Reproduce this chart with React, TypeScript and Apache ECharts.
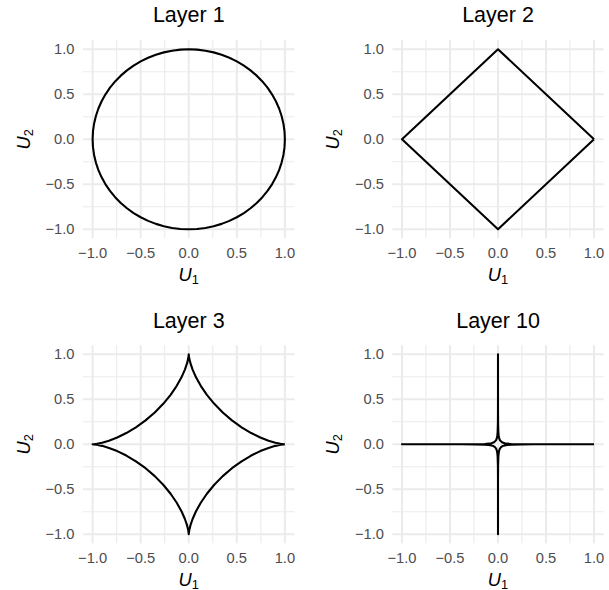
import React, { useEffect, useRef } from "react";
import * as echarts from "echarts";

const layerTitles = ["Layer 1", "Layer 2", "Layer 3", "Layer 10"];

// first-quadrant points of each unit ball boundary (x, y)
const circleQuadrant = [
  [1, 0], [0.9962, 0.0872], [0.9848, 0.1736], [0.9659, 0.2588], [0.9397, 0.342],
  [0.9063, 0.4226], [0.866, 0.5], [0.8192, 0.5736], [0.766, 0.6428], [0.7071, 0.7071],
  [0.6428, 0.766], [0.5736, 0.8192], [0.5, 0.866], [0.4226, 0.9063], [0.342, 0.9397],
  [0.2588, 0.9659], [0.1736, 0.9848], [0.0872, 0.9962], [0, 1],
];
const diamondQuadrant = [[1, 0], [0, 1]];
const astroidQuadrant = [
  [1, 0], [0.9886, 0.0007], [0.9551, 0.0052], [0.9012, 0.0173], [0.8298, 0.04],
  [0.7444, 0.0755], [0.6495, 0.125], [0.5497, 0.1887], [0.4495, 0.2656],
  [0.3536, 0.3536], [0.2656, 0.4495], [0.1887, 0.5497], [0.125, 0.6495],
  [0.0755, 0.7444], [0.04, 0.8298], [0.0173, 0.9012], [0.0052, 0.9551],
  [0.0007, 0.9886], [0, 1],
];
const layer10Quadrant = [
  [1, 0], [0.7071, 0], [0.5369, 0], [0.3739, 0.0002], [0.2373, 0.001],
  [0.136, 0.0039], [0.0988, 0.007], [0.0696, 0.012], [0.0475, 0.0198],
  [0.03125, 0.03125], [0.0198, 0.0475], [0.012, 0.0696], [0.007, 0.0988],
  [0.0039, 0.136], [0.001, 0.2373], [0.0002, 0.3739], [0, 0.5369], [0, 0.7071], [0, 1],
];
const quadrants = [circleQuadrant, diamondQuadrant, astroidQuadrant, layer10Quadrant];

const majorTicks = [-1, -0.5, 0, 0.5, 1];
const minorTicks = [-0.75, -0.25, 0.25, 0.75];
const axisLimits = [-1.1, 1.1];

const FONT = "Liberation Sans, Arial, Helvetica, sans-serif";

function closedCurve(q: number[][]): number[][] {
  const rev = q.slice().reverse();
  return [
    ...q.map(([x, y]) => [x, y]),
    ...rev.map(([x, y]) => [-x, y]),
    ...q.map(([x, y]) => [-x, -y]),
    ...rev.map(([x, y]) => [x, -y]),
  ];
}

const grids = [
  { left: 83, top: 40.3, width: 211.5, height: 198 },
  { left: 392.4, top: 40.3, width: 211.2, height: 198 },
  { left: 83, top: 345.3, width: 211.5, height: 198 },
  { left: 392.4, top: 345.3, width: 211.2, height: 198 },
];
const titleTops = [4, 4, 309.5, 309.5];

function tickFmt(v: number): string {
  const r = Math.round(v * 2) / 2;
  if (Math.abs(v - r) > 1e-6 || Math.abs(v) > 1.0001) return "";
  return r.toFixed(1).replace("-", "\u2212");
}

function buildOption() {
  const nameRich = {
    u: { fontFamily: FONT, fontStyle: "italic", fontSize: 18.3, color: "#000", lineHeight: 16 },
    s: { fontFamily: FONT, fontSize: 12.8, color: "#000", height: 6, lineHeight: 6, verticalAlign: "bottom" },
  };
  const xAxis: any[] = [];
  const yAxis: any[] = [];
  const series: any[] = [];
  const title: any[] = [];
  grids.forEach((g, i) => {
    title.push({
      text: layerTitles[i],
      left: g.left + g.width / 2,
      top: titleTops[i],
      textAlign: "center",
      padding: 0,
      textStyle: { fontFamily: FONT, fontSize: 21.5, fontWeight: "normal", color: "#000", lineHeight: 22 },
    });
    const common = {
      gridIndex: i,
      type: "value",
      min: axisLimits[0],
      max: axisLimits[1],
      interval: 0.1,
      axisLine: { show: false },
      axisTick: { show: false },
      splitLine: { show: false },
      nameLocation: "middle",
      nameTextStyle: { rich: nameRich },
    };
    xAxis.push({
      ...common,
      name: "{u|U}{s|1}",
      nameGap: 28.5,
      axisLabel: { formatter: tickFmt, margin: 7.5, fontFamily: FONT, fontSize: 14.7, color: "#4D4D4D" },
    });
    yAxis.push({
      ...common,
      name: "{u|U}{s|2}",
      nameGap: 52,
      axisLabel: { formatter: tickFmt, margin: 8.5, fontFamily: FONT, fontSize: 14.7, color: "#4D4D4D" },
    });
    const gridLine = (data: number[][], width: number) => ({
      type: "line",
      xAxisIndex: i,
      yAxisIndex: i,
      data,
      symbol: "none",
      silent: true,
      z: 1,
      lineStyle: { color: "#EBEBEB", width },
    });
    minorTicks.forEach((v) => {
      series.push(gridLine([[v, axisLimits[0]], [v, axisLimits[1]]], 1.1));
      series.push(gridLine([[axisLimits[0], v], [axisLimits[1], v]], 1.1));
    });
    majorTicks.forEach((v) => {
      series.push(gridLine([[v, axisLimits[0]], [v, axisLimits[1]]], 2));
      series.push(gridLine([[axisLimits[0], v], [axisLimits[1], v]], 2));
    });
    series.push({
      type: "line",
      xAxisIndex: i,
      yAxisIndex: i,
      data: closedCurve(quadrants[i]),
      symbol: "none",
      smooth: false,
      z: 3,
      lineStyle: { color: "#000", width: 2.1, join: "round" },
    });
  });
  return {
    animation: false,
    backgroundColor: "#fff",
    title,
    grid: grids.map((g) => ({ ...g, containLabel: false, outerBoundsMode: "none" })),
    xAxis,
    yAxis,
    series,
  };
}

export default function App() {
  const ref = useRef<HTMLDivElement>(null);
  useEffect(() => {
    if (!ref.current) return;
    const chart = echarts.init(ref.current, undefined, { renderer: "svg" });
    chart.setOption(buildOption() as any);
    return () => chart.dispose();
  }, []);
  return (
    <div
      ref={ref}
      style={{ position: "absolute", left: 0, top: 0, width: 609, height: 590, background: "#fff" }}
    />
  );
}
